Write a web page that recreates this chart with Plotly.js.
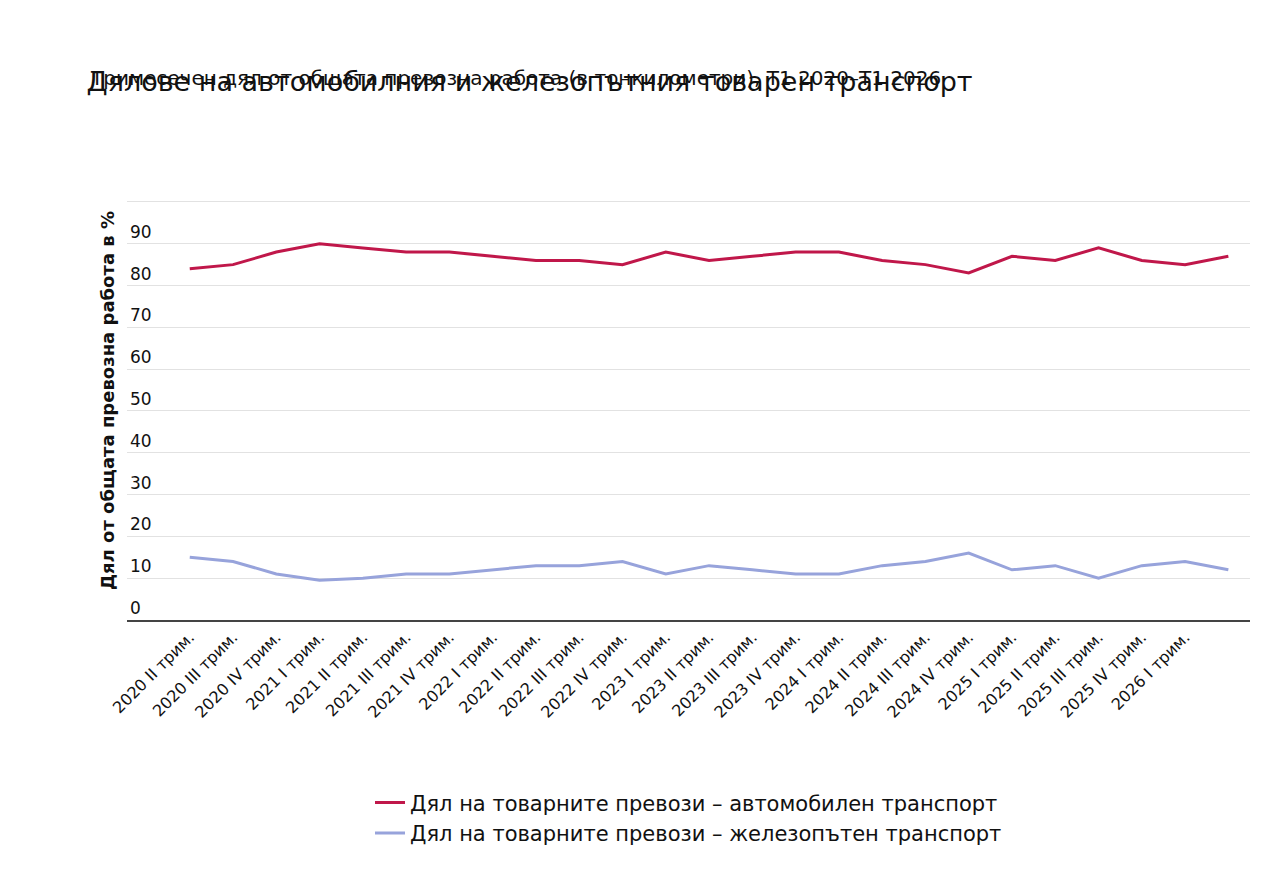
<!DOCTYPE html>
<html>
<head>
<meta charset="utf-8">
<script src="https://cdn.plot.ly/plotly-3.0.1.min.js"></script>
<style>body{margin:0;background:#fff}#chart{width:1273px;height:881px}</style>
</head>
<body>
<div id="chart"></div>
<script>
var quarterLabels = ['2020 II трим.', '2020 III трим.', '2020 IV трим.', '2021 I трим.', '2021 II трим.', '2021 III трим.',
  '2021 IV трим.', '2022 I трим.', '2022 II трим.', '2022 III трим.', '2022 IV трим.', '2023 I трим.',
  '2023 II трим.', '2023 III трим.', '2023 IV трим.', '2024 I трим.', '2024 II трим.', '2024 III трим.',
  '2024 IV трим.', '2025 I трим.', '2025 II трим.', '2025 III трим.', '2025 IV трим.', '2026 I трим.']
var pointIndex = [0, 1, 2, 3, 4, 5, 6, 7, 8, 9, 10, 11, 12, 13, 14, 15, 16, 17, 18, 19, 20, 21, 22, 23, 24]
var roadShare = [84, 85, 88, 90, 89, 88, 88, 87, 86, 86, 85, 88, 86, 87, 88, 88, 86, 85, 83, 87, 86, 89, 86, 85, 87]
var railShare = [15, 14, 11, 9.5, 10, 11, 11, 12, 13, 13, 14, 11, 13, 12, 11, 11, 13, 14, 16, 12, 13, 10, 13, 14, 12]

var font = '"DejaVu Sans", sans-serif'

var data = [
  {x: pointIndex, y: roadShare, type: 'scatter', mode: 'lines', name: 'Дял на товарните превози – автомобилен транспорт',
    line: {color: '#c0174a', width: 3}},
  {x: pointIndex, y: railShare, type: 'scatter', mode: 'lines', name: 'Дял на товарните превози – железопътен транспорт',
    line: {color: '#97a3db', width: 3}}
]

var layout = {
  width: 1273, height: 881,
  paper_bgcolor: '#fff', plot_bgcolor: '#fff',
  font: {family: font, color: '#111', size: 16},
  margin: {l: 127, r: 23, t: 181, b: 261},
  title: {text: 'Дялове на автомобилния и железопътния товарен транспорт', x: 0.068, xanchor: 'left', y: 0.918,
    font: {size: 27, color: '#111', family: font}},
  annotations: [{text: 'Тримесечен дял от общата превозна работа (в тонкилометри), Т1 2020–Т1 2026', xref: 'paper', yref: 'paper',
    x: -0.035, y: 1.235, xanchor: 'left', yanchor: 'middle', showarrow: false, font: {size: 20, color: '#111'}}],
  xaxis: {
    range: [-1.45, 24.5], tickvals: pointIndex.slice(0, 24), ticktext: quarterLabels, tickangle: -45,
    showgrid: false, zeroline: false, showline: true, linecolor: '#444', linewidth: 1.5,
    tickfont: {size: 16, color: '#111'}, ticks: ''
  },
  yaxis: {
    range: [0, 105], tickvals: [0, 10, 20, 30, 40, 50, 60, 70, 80, 90, 100], ticklabelposition: 'inside top',
    gridcolor: '#e2e2e2', zeroline: false,
    tickfont: {size: 17, color: '#111'},
    title: {text: '<b>Дял от общата превозна работа в %</b>', standoff: 10, font: {size: 18, color: '#111'}}
  },
  showlegend: true,
  legend: {orientation: 'v', x: 0.5, xanchor: 'center', y: -0.37, yanchor: 'top', font: {size: 21, color: '#111'}, tracegroupgap: 18}
}

Plotly.newPlot('chart', data, layout, {displayModeBar: false, staticPlot: true})
</script>
</body>
</html>
